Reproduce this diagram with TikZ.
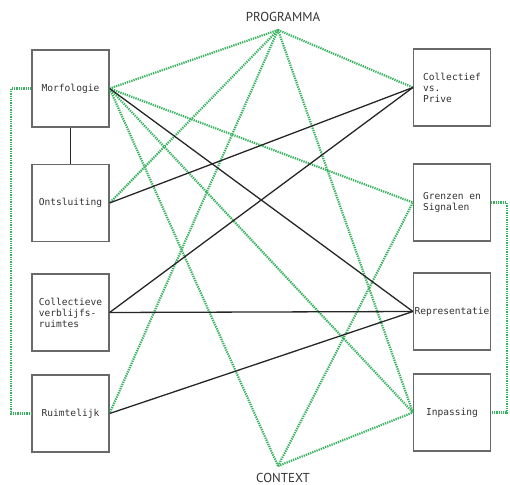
\documentclass[tikz,border=0pt]{standalone}
\usepackage{fontspec}
\setmonofont{DejaVu Sans Mono}
\newfontfamily\headfont{PT Sans}
\usepackage{tikz}
\usetikzlibrary{calc}
\definecolor{linkgreen}{RGB}{55,178,95}
\definecolor{boxgray}{RGB}{105,105,105}
\definecolor{textgray}{RGB}{50,50,50}

\begin{document}
\begin{tikzpicture}[x=1bp, y=-1bp,
    themebox/.style={draw=boxgray, line width=1.2bp, minimum width=77bp, minimum height=77bp,
        inner sep=1bp, align=left, text=textgray, font=\ttfamily\fontsize{9.6}{11}\selectfont},
    hardlink/.style={draw=black!85, line width=1.3bp},
    softlink/.style={draw=linkgreen, line width=2.2bp, dash pattern=on 1.3bp off 1bp},
    headlabel/.style={text=textgray, font=\headfont\fontsize{13}{15}\selectfont}]
    \useasboundingbox (0,0) rectangle (510,485);

    % --- poles ---
    \node[headlabel] (proglbl) at (283,17) {PROGRAMMA};
    \node[headlabel] (ctxlbl) at (283,478) {CONTEXT};
    \coordinate (prog) at (278,30);
    \coordinate (ctx) at (278,466);

    % --- left column ---
    \node[themebox] (morf) at (70.5,88.5) {Morfologie};
    \node[themebox] (onts) at (70.5,203) {Ontsluiting};
    \node[themebox] (cver) at (70.5,312.5) {Collectieve\\verblijfs-\\ruimtes};
    \node[themebox] (ruim) at (70.5,413.5) {Ruimtelijk};

    % --- right column ---
    \node[themebox] (coll) at (452,87.5) {Collectief\\vs.\\Prive};
    \node[themebox] (gren) at (452,202.5) {Grenzen en\\Signalen};
    \node[themebox] (repr) at (452,311.5) {Representatie};
    \node[themebox] (inpa) at (452,412.5) {Inpassing};

    % Green links
    \foreach \a/\b in {prog/morf.east, prog/onts.east, prog/ruim.east, prog/coll.west,
        prog/inpa.west, ctx/morf.east, ctx/gren.west, ctx/inpa.west,
        morf.east/gren.west, morf.east/inpa.west}{
        \draw[softlink] (\a) -- (\b);
    }

    % Brackets
    \draw[softlink] (morf.west) -- ++(-20.5,0) |- (ruim.west);
    \draw[softlink] (gren.east) -- ++(15.5,0) |- (inpa.east);

    % Black links
    \draw[hardlink] (morf.south) -- (onts.north);
    \foreach \a/\b in {morf/repr, onts/coll, cver/coll, cver/repr, ruim/repr}{
        \draw[hardlink] (\a.east) -- (\b.west);
    }
\end{tikzpicture}
\end{document}
